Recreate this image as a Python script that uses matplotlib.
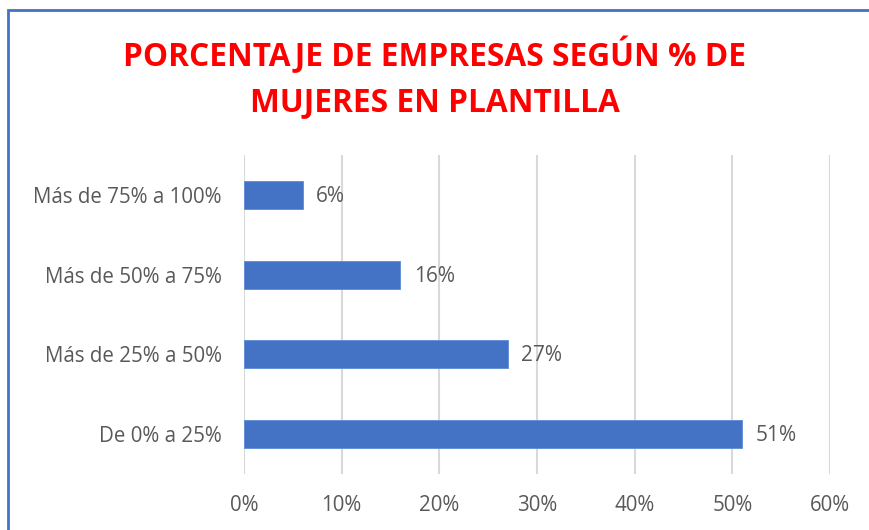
import matplotlib
matplotlib.use("Agg")
import matplotlib.pyplot as plt
from matplotlib.patches import Rectangle
from matplotlib.ticker import FuncFormatter

categories = ["De 0% a 25%", "Más de 25% a 50%", "Más de 50% a 75%", "Más de 75% a 100%"]
values = [51, 27, 16, 6]
labels = ["51%", "27%", "16%", "6%"]
xticks = [0, 10, 20, 30, 40, 50, 60]
title = "PORCENTAJE DE EMPRESAS SEGÚN % DE\nMUJERES EN PLANTILLA"

plt.rcParams['font.family'] = ['Open Sans', 'DejaVu Sans']

W, H = 869, 530
fig = plt.figure(figsize=(W/100, H/100), dpi=100)
ax = fig.add_axes([244/W, 1-474/H, (830-244)/W, (474-155)/H])

gray = "#595959"
bar_color = "#4472C4"
ypos = list(range(len(categories)))
ax.barh(ypos, values, height=0.35, color=bar_color, edgecolor="#5B8BD6", linewidth=0.6, zorder=3)
for y, v, t in zip(ypos, values, labels):
    ax.text(v + 1.4, y - 0.02, t, va="center", ha="left", fontsize=15, color=gray)

ax.set_xlim(0, 60)
ax.set_ylim(-0.5, 3.5)
ax.set_xticks(xticks)
ax.xaxis.set_major_formatter(FuncFormatter(lambda x, p: f"{int(x)}%"))
ax.set_yticks(ypos)
ax.set_yticklabels(categories)
ax.tick_params(axis="both", length=0, labelsize=14.8, colors=gray)
ax.tick_params(axis="y", pad=16)
ax.tick_params(axis="x", pad=15)
ax.grid(axis="x", color="#D9D9D9", linewidth=1.5, zorder=0)
for s in ax.spines.values():
    s.set_visible(False)

fig.text(0.5, 1-78/H, title, ha="center", va="center", fontsize=22.8, fontweight="bold",
         color="#FF0000", linespacing=1.5)

fig.patches.append(Rectangle((8/W, -0.1), 1.2, 1-10/H+0.1, transform=fig.transFigure,
                             fill=False, edgecolor="#4472C4", linewidth=2))

fig.savefig("out.png", dpi=100)
